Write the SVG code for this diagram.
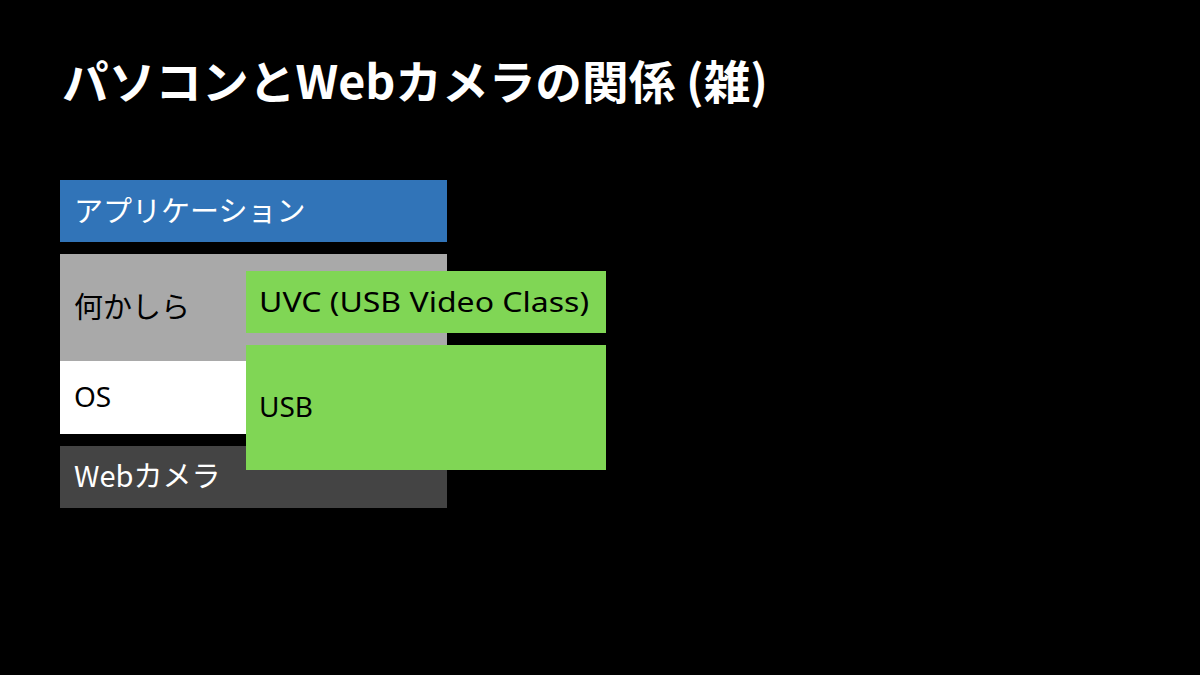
<svg xmlns="http://www.w3.org/2000/svg" width="1200" height="675" viewBox="0 0 1200 675">
<style>
.t{font-family:"Noto Sans CJK JP","Noto Sans",sans-serif;font-size:29px}
.l{font-family:"Noto Sans","Noto Sans CJK JP",sans-serif;font-size:28px}
.title{font-family:"Noto Sans CJK JP","Noto Sans",sans-serif;font-size:46px;font-weight:bold;fill:#fff}
</style>
<rect width="1200" height="675" fill="#000"/>
<text class="title" x="62" y="99" textLength="706" lengthAdjust="spacingAndGlyphs">パソコンとWebカメラの関係 (雑)</text>
<g id="app"><rect x="60" y="180" width="387" height="62" fill="#3174b8"/><text class="t" x="74" y="222" fill="#fff">アプリケーション</text></g>
<g id="something"><rect x="60" y="254" width="387" height="107" fill="#a9a9a9"/><text class="t" x="74" y="318" fill="#000">何かしら</text></g>
<g id="os"><rect x="60" y="361" width="387" height="73" fill="#fff"/><text class="l" x="74" y="407" fill="#000">OS</text></g>
<g id="webcam"><rect x="60" y="446" width="387" height="62" fill="#444"/><text class="t" x="74" y="487" fill="#fff">Webカメラ</text></g>
<g id="uvc"><rect x="246" y="271" width="360" height="62" fill="#80d655"/><text class="l" x="259" y="312" fill="#000" textLength="330" lengthAdjust="spacingAndGlyphs">UVC (USB Video Class)</text></g>
<g id="usb"><rect x="246" y="345" width="360" height="125" fill="#80d655"/><text class="l" x="259" y="417" fill="#000">USB</text></g>
<g id="connectors"/>
</svg>
